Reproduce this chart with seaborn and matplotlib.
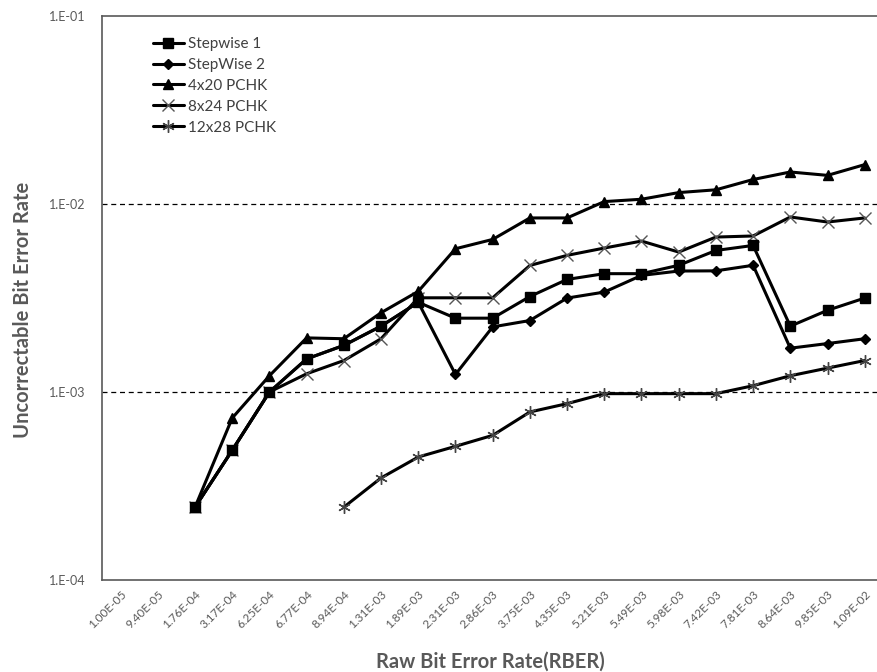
import numpy as np
import pandas as pd
import matplotlib
matplotlib.use("Agg")
import matplotlib.pyplot as plt
import seaborn as sns

# ---- data ----
rber_labels = ["1.00E-05", "9.40E-05", "1.76E-04", "3.17E-04", "6.25E-04", "6.77E-04",
               "8.94E-04", "1.31E-03", "1.89E-03", "2.31E-03", "2.86E-03", "3.75E-03",
               "4.35E-03", "5.21E-03", "5.49E-03", "5.98E-03", "7.42E-03", "7.81E-03",
               "8.64E-03", "9.85E-03", "1.09E-02"]
nan = np.nan
stepwise1 = [nan, nan, 2.44e-4, 4.9e-4, 1.0e-3, 1.5e-3, 1.77e-3, 2.24e-3, 3.0e-3, 2.47e-3,
             2.47e-3, 3.22e-3, 3.97e-3, 4.26e-3, 4.26e-3, 4.72e-3, 5.66e-3, 6.02e-3,
             2.24e-3, 2.72e-3, 3.16e-3]
stepwise2 = [nan, nan, 2.44e-4, 4.9e-4, 1.0e-3, 1.5e-3, 1.77e-3, 2.24e-3, 3.0e-3, 1.24e-3,
             2.22e-3, 2.40e-3, 3.16e-3, 3.40e-3, 4.17e-3, 4.40e-3, 4.41e-3, 4.72e-3,
             1.71e-3, 1.81e-3, 1.92e-3]
pchk_4x20 = [nan, nan, 2.44e-4, 7.27e-4, 1.22e-3, 1.94e-3, 1.92e-3, 2.64e-3, 3.43e-3, 5.78e-3,
             6.48e-3, 8.43e-3, 8.43e-3, 1.03e-2, 1.06e-2, 1.15e-2, 1.19e-2, 1.35e-2,
             1.48e-2, 1.42e-2, 1.62e-2]
pchk_8x24 = [nan, nan, 2.44e-4, 4.9e-4, 1.0e-3, 1.25e-3, 1.47e-3, 1.92e-3, 3.17e-3, 3.17e-3,
             3.17e-3, 4.71e-3, 5.33e-3, 5.83e-3, 6.35e-3, 5.55e-3, 6.67e-3, 6.76e-3,
             8.53e-3, 8.02e-3, 8.43e-3]
pchk_12x28 = [nan, nan, nan, nan, nan, nan, 2.44e-4, 3.49e-4, 4.51e-4, 5.14e-4, 5.88e-4,
              7.83e-4, 8.67e-4, 9.8e-4, 9.8e-4, 9.8e-4, 9.8e-4, 1.08e-3, 1.22e-3,
              1.34e-3, 1.47e-3]
series_names = ["Stepwise 1", "StepWise 2", "4x20 PCHK", "8x24 PCHK", "12x28 PCHK"]
y_ticks = [1e-4, 1e-3, 1e-2, 1e-1]
y_tick_labels = ["1.E-04", "1.E-03", "1.E-02", "1.E-01"]

# ---- style ----
sns.set_theme(style="white")
plt.rcParams['font.family'] = ['Lato', 'DejaVu Sans']

W, H = 877, 672
fig = plt.figure(figsize=(W / 100, H / 100), dpi=100)
ax_l, ax_r, ax_t, ax_b = 102, 877, 16, 580
ax = fig.add_axes([ax_l / W, 1 - ax_b / H, (ax_r - ax_l) / W, (ax_b - ax_t) / H])

x = np.arange(len(rber_labels))
all_series = [stepwise1, stepwise2, pchk_4x20, pchk_8x24, pchk_12x28]
markers = ["s", "D", "^", "x", (6, 2, 0)]
msizes = [7.5, 5, 7.5, 8, 9]
medge = [1, 1, 1, 1.0, 1.0]
mcolors = ["black", "black", "black", "#555555", "#444444"]
zorders = [6, 5, 4, 3, 2]

for vals, name, m, ms, mew, mc, z in zip(all_series, series_names, markers, msizes,
                                         medge, mcolors, zorders):
    df = pd.DataFrame({"x": x, "y": vals}).dropna()
    sns.lineplot(data=df, x="x", y="y", ax=ax, color="black", linewidth=2.2,
                 marker=m, markersize=ms, markeredgewidth=mew,
                 markeredgecolor=mc, markerfacecolor="black",
                 label=name, sort=False, zorder=z)

ax.set_yscale("log")
ax.set_ylim(1e-4, 1e-1)
ax.set_xlim(-0.5, 20.33)

# dashed gridlines at interior decades
for yv in [1e-3, 1e-2]:
    ax.axhline(yv, color="black", linestyle=(0, (4, 3)), linewidth=0.9, zorder=1)

ax.set_yticks(y_ticks)
ax.set_yticklabels(y_tick_labels, fontsize=9, color="#595959")
ax.yaxis.set_minor_locator(matplotlib.ticker.NullLocator())
ax.set_xticks(x)
ax.set_xticklabels(rber_labels, rotation=45, ha="right", rotation_mode="anchor",
                   fontsize=8.5, color="#595959")
ax.tick_params(axis="both", length=0)
ax.tick_params(axis="y", pad=12)
ax.tick_params(axis="x", pad=6)

for side in ["left", "top", "bottom"]:
    ax.spines[side].set_color("#595959")
    ax.spines[side].set_linewidth(1.2)
ax.spines["right"].set_visible(False)

ax.set_xlabel("Raw Bit Error Rate(RBER)", fontsize=14.5, fontweight="bold", color="#595959")
ax.set_ylabel("Uncorrectable Bit Error Rate", fontsize=14.5, fontweight="bold", color="#595959")
ax.xaxis.set_label_coords((490 - ax_l) / (ax_r - ax_l), (ax_b - 652) / (ax_b - ax_t))
ax.yaxis.set_label_coords((33 - ax_l) / (ax_r - ax_l), (ax_b - 310) / (ax_b - ax_t))

leg = ax.legend(loc="upper left", bbox_to_anchor=(153 / W, 1 - 37 / H),
                bbox_transform=fig.transFigure, frameon=False, fontsize=11,
                borderpad=0, borderaxespad=0, handlelength=2.0, handletextpad=0.3,
                labelspacing=0.45)
for t in leg.get_texts():
    t.set_color("#404040")

fig.savefig("out.png", dpi=100)
